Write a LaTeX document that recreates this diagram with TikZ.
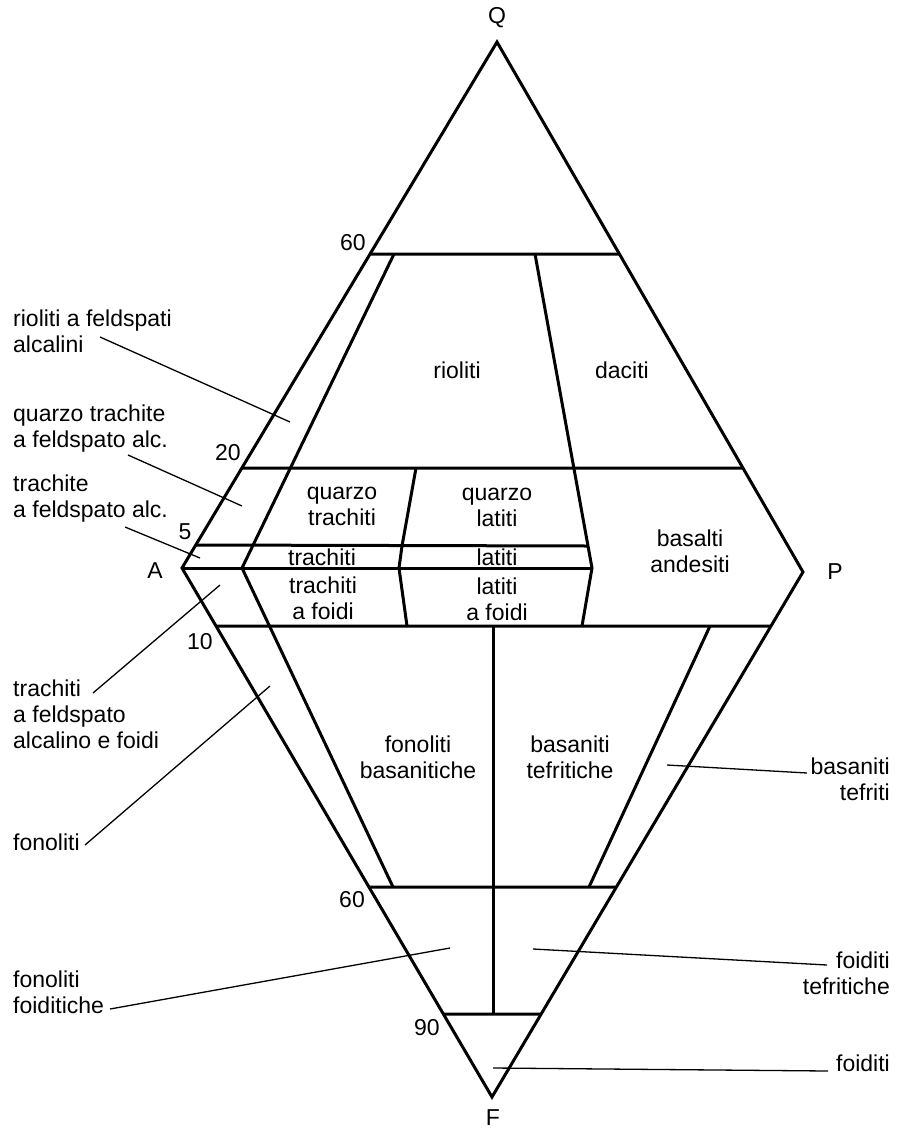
\documentclass[tikz,border=0pt]{standalone}
\usepackage{fontspec}
\setmainfont{Liberation Sans}
\usetikzlibrary{calc}
\begin{document}
\begin{tikzpicture}[x=1pt,y=-1pt,
  edge/.style={line width=3pt, line join=miter, line cap=butt},
  leader/.style={line width=1.3pt},
  lab/.style={font=\fontsize{23}{26}\selectfont, inner sep=0pt, align=center},
  llab/.style={lab, align=left, anchor=west},
  rlab/.style={lab, align=right, anchor=east}]
\useasboundingbox (0,0) rectangle (899,1136);
% vertices
\coordinate (Q) at (497,42);
\coordinate (A) at (182,568);
\coordinate (P) at (803,572);
\coordinate (F) at (492,1097);
% points on edges
\coordinate (L60) at ($(Q)!{212/526}!(A)$);
\coordinate (L20) at ($(Q)!{426/526}!(A)$);
\coordinate (L5)  at ($(Q)!{503/526}!(A)$);
\coordinate (R60) at ($(Q)!{212/530}!(P)$);
\coordinate (R20) at ($(Q)!{426/530}!(P)$);
\coordinate (L10) at ($(A)!{58/529}!(F)$);
\coordinate (Lb60) at ($(A)!{319/529}!(F)$);
\coordinate (L90) at ($(A)!{446/529}!(F)$);
\coordinate (R10) at ($(P)!{54/525}!(F)$);
\coordinate (Rb60) at ($(P)!{315/525}!(F)$);
\coordinate (R90) at ($(P)!{442/525}!(F)$);
% interior points
\coordinate (T1) at (394,254);
\coordinate (T2) at (535,254);
\coordinate (M1) at (242,568);
\coordinate (M2) at (592,568);
\coordinate (M2b) at (588,546);
\coordinate (D1) at (416,468);
\coordinate (D2) at (402,546);
\coordinate (D3) at (399,568);
\coordinate (D4) at (407,626);
\coordinate (E4) at (582,626);
\coordinate (B1) at (393,887);
\coordinate (V1) at (493,626);
\coordinate (V2) at (493,1014);
\coordinate (G1) at (710,626);
\coordinate (G2) at (589,887);

% outline
\draw[edge] (Q) -- (A) -- (F) -- (P) -- cycle;
% horizontal lines
\draw[edge] (L60) -- (R60);
\draw[edge] (L20) -- (R20);
\draw[edge] (L5) -- (M2b);
\draw[edge] (A) -- (M2);
\draw[edge] (L10) -- (R10);
\draw[edge] (Lb60) -- (Rb60);
\draw[edge] (L90) -- (R90);
% inner lines
\draw[edge] (T1) -- (M1) -- (B1);
\draw[edge] (T2) -- (M2) -- (E4);
\draw[edge] (D1) -- (D2) -- (D3) -- (D4);
\draw[edge] (V1) -- (V2);
\draw[edge] (G1) -- (G2);

% vertex labels
\node[lab] (lQ) at (497,18) {Q};
\node[lab] (lA) at (155,571) {A};
\node[lab] (lP) at (835,572) {P};
\node[lab] (lF) at (493,1118) {F};
% scale numbers
\node[lab] (n60a) at (353,243) {60};
\node[lab] (n20) at (228,453) {20};
\node[lab] (n5) at (185,532) {5};
\node[lab] (n10) at (200,642) {10};
\node[lab] (n60b) at (352,900) {60};
\node[lab] (n90) at (427,1028) {90};
% field labels
\node[lab] (rio) at (457,370) {rioliti};
\node[lab] (dac) at (622,370) {daciti};
\node[lab] (qtr) at (342,506) {quarzo\\trachiti};
\node[lab] (qla) at (497,507) {quarzo\\latiti};
\node[lab] (tra) at (322,557) {trachiti};
\node[lab] (lat) at (497,557) {latiti};
\node[lab] (traf) at (323,598) {trachiti\\a foidi};
\node[lab] (latf) at (497,599) {latiti\\a foidi};
\node[lab] (bas) at (690,551) {basalti\\andesiti};
\node[lab] (fonb) at (418,757) {fonoliti\\basanitiche};
\node[lab] (bast) at (570,757) {basaniti\\tefritiche};
% outside labels
\node[llab] (t1) at (13,331) {rioliti a feldspati\\alcalini};
\node[llab] (t2) at (13,429) {quarzo trachite\\a feldspato alc.};
\node[llab] (t3) at (13,499) {trachite\\a feldspato alc.};
\node[llab] (t4) at (13,714) {trachiti\\a feldspato\\alcalino e foidi};
\node[llab] (t5) at (13,842) {fonoliti};
\node[llab] (t6) at (13,992) {fonoliti\\foiditiche};
\node[rlab] (t7) at (890,779) {basaniti\\tefriti};
\node[rlab] (t8) at (890,973) {foiditi\\tefritiche};
\node[rlab] (t9) at (890,1063) {foiditi};
% leader lines
\coordinate (a1) at (100,337); \coordinate (b1) at (290,422);
\coordinate (a2) at (128,455); \coordinate (b2) at (242,506);
\coordinate (a3) at (125,527); \coordinate (b3) at (200,558);
\coordinate (a4) at (93,693);  \coordinate (b4) at (220,585);
\coordinate (a5) at (85,845);  \coordinate (b5) at (270,686);
\coordinate (a6) at (110,1009); \coordinate (b6) at (450,948);
\coordinate (a7) at (807,773); \coordinate (b7) at (667,765);
\coordinate (a8) at (827,965); \coordinate (b8) at (533,949);
\coordinate (a9) at (828,1071); \coordinate (b9) at (493,1068);
\draw[leader] (a1) -- (b1);
\draw[leader] (a2) -- (b2);
\draw[leader] (a3) -- (b3);
\draw[leader] (a4) -- (b4);
\draw[leader] (a5) -- (b5);
\draw[leader] (a6) -- (b6);
\draw[leader] (a7) -- (b7);
\draw[leader] (a8) -- (b8);
\draw[leader] (a9) -- (b9);
\end{tikzpicture}
\end{document}
